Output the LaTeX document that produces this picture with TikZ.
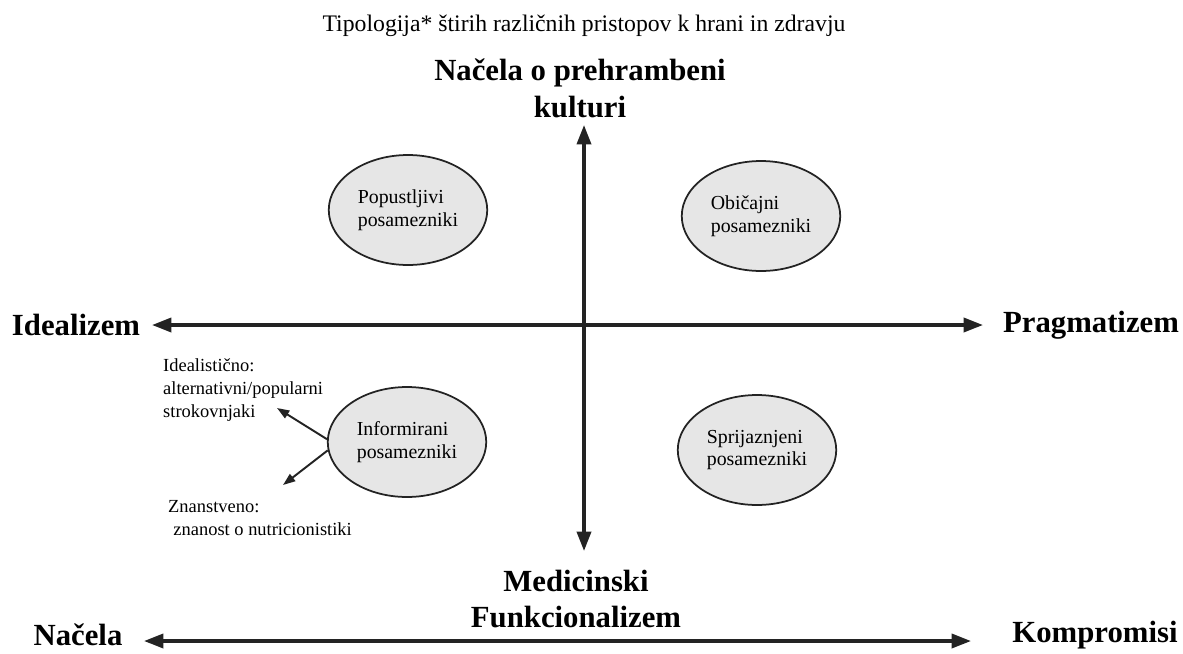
\documentclass[tikz,border=0pt]{standalone}
\usepackage{fontspec}
\setmainfont{Liberation Serif}
\usetikzlibrary{shapes.geometric, arrows.meta, positioning}
\definecolor{ovalcolor}{RGB}{230, 230, 230}
\definecolor{linecolor}{RGB}{35, 35, 35}

\begin{document}
\begin{tikzpicture}[
    x=0.02cm, y=-0.02cm,
    axis/.style={{Triangle[length=11pt, width=8pt]}-{Triangle[length=11pt, width=8pt]}, line width=1.9pt, draw=linecolor},
    pointer/.style={-{Triangle[length=7pt, width=5pt]}, line width=1.1pt, draw=linecolor},
    oval/.style={ellipse, draw=linecolor, line width=1pt, fill=ovalcolor, minimum width=2.96cm, minimum height=2.2cm, align=left, font=\fontsize{11.3}{13}\selectfont},
    pole/.style={font=\fontsize{17.5}{21}\selectfont\bfseries, align=center},
    note/.style={font=\fontsize{10.5}{13}\selectfont, align=left, anchor=west}
]

\useasboundingbox (0, 0) rectangle (1183, 653);

% Title
\node[font=\fontsize{13.5}{16}\selectfont] (title) at (584, 26) {Tipologija* štirih različnih pristopov k hrani in zdravju};

% Vertical axis
\node[pole] (top) at (580, 88) {Načela o prehrambeni\\kulturi};
\node[pole] (bottom) at (576, 599) {Medicinski\\Funkcionalizem};
\coordinate (vtop) at (584, 125);
\coordinate (vbot) at (584, 551);
\draw[axis] (vtop) -- (vbot);

% Horizontal axis
\node[pole] (left) at (76, 325) {Idealizem};
\node[pole] (right) at (1091, 325) {Pragmatizem};
\coordinate (hleft) at (152, 325);
\coordinate (hright) at (983, 325);
\draw[axis] (hleft) -- (hright);

% Bottom axis
\node[pole] (princ) at (78, 635) {Načela};
\node[pole] (compr) at (1095, 635) {Kompromisi};
\coordinate (bleft) at (144, 641);
\coordinate (bright) at (971, 641);
\draw[axis] (bleft) -- (bright);

% Four types
\node[oval] (lenient) at (408, 210) {Popustljivi\\posamezniki};
\node[oval] (usual) at (761, 216) {Običajni\\posamezniki};
\node[oval] (inf) at (407, 442) {Informirani\\posamezniki};
\node[oval] (resigned) at (757, 450) {Sprijaznjeni\\posamezniki};

% Sources of the informed
\node[note] (ideal) at (157, 390) {Idealistično:\\alternativni/popularni\\strokovnjaki};
\node[note] (science) at (162, 518) {Znanstveno:\\\hspace{3pt}znanost o nutricionistiki};
\coordinate (idealtip) at (277, 408);
\coordinate (sciencetip) at (283, 485);
\draw[pointer] (inf.178) -- (idealtip);
\draw[pointer] (inf.186) -- (sciencetip);

\end{tikzpicture}
\end{document}
